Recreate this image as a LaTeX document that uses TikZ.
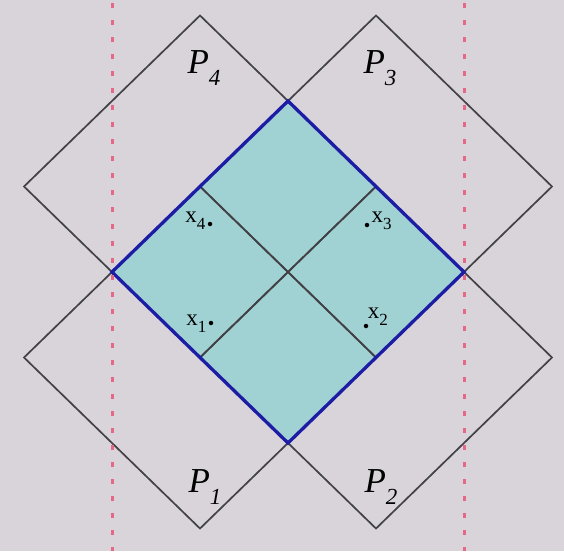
\documentclass[tikz,border=0pt]{standalone}
\usepackage{fontspec}
\setmainfont{Liberation Serif}
\definecolor{bg}{RGB}{216,212,218}
\definecolor{fillc}{RGB}{160,210,212}
\definecolor{edge}{RGB}{28,28,165}
\definecolor{grayline}{RGB}{65,65,70}
\definecolor{reddash}{RGB}{228,105,135}
\newcommand{\plab}[1]{\fontsize{35}{38}\selectfont\textit{P}\raisebox{-0.35em}{\fontsize{23}{24}\selectfont\textit{#1}}}
\newcommand{\xlab}[1]{\fontsize{23}{26}\selectfont x\raisebox{-0.3em}{\fontsize{17}{19}\selectfont #1}}
\begin{document}
\begin{tikzpicture}[x=1pt,y=-1pt,
  psq/.style={draw=grayline,line width=1.7pt,line join=miter},
  central/.style={draw=edge,line width=3.3pt,line join=miter},
  guide/.style={draw=reddash,line width=3pt,dash pattern=on 5pt off 12pt},
  pt/.style={circle,fill=black,inner sep=0pt,minimum size=4.5pt},
  lab/.style={inner sep=0pt}]
\useasboundingbox (0,0) rectangle (564,551);
\fill[bg] (0,0) rectangle (564,551);
% geometry
\def\hx{176}\def\hy{171}
\coordinate (C) at (288,272);
\coordinate (c4) at (200,186.5);
\coordinate (c3) at (376,186.5);
\coordinate (c1) at (200,357.5);
\coordinate (c2) at (376,357.5);
% central fill
\fill[fillc] ([yshift=-\hy]C) -- ([xshift=\hx]C) -- ([yshift=\hy]C) -- ([xshift=-\hx]C) -- cycle;
% P squares
\foreach \c in {c1,c2,c3,c4}{
  \draw[psq] ([yshift=-\hy]\c) -- ([xshift=\hx]\c) -- ([yshift=\hy]\c) -- ([xshift=-\hx]\c) -- cycle;
}
% central border
\draw[central] ([yshift=-\hy]C) -- ([xshift=\hx]C) -- ([yshift=\hy]C) -- ([xshift=-\hx]C) -- cycle;
% red guides
\coordinate (g1t) at (112,3);
\coordinate (g1b) at (112,551);
\coordinate (g2t) at (464,3);
\coordinate (g2b) at (464,551);
\draw[guide] (g1t) -- (g1b);
\draw[guide] (g2t) -- (g2b);
% labels
\node[lab] (P4) at (204,68) {\plab{4}};
\node[lab] (P3) at (380,68) {\plab{3}};
\node[lab] (P1) at (205,487) {\plab{1}};
\node[lab] (P2) at (381,487) {\plab{2}};
% points
\node[pt] (x4) at (210,224) {};
\node[pt] (x1) at (211,323) {};
\node[pt] (x3) at (367,225) {};
\node[pt] (x2) at (366,326) {};
\node[lab,anchor=east] (l4) at ([xshift=-2pt,yshift=3pt]x4.west) {\xlab{4}};
\node[lab,anchor=east] (l1) at ([xshift=-2pt,yshift=-1pt]x1.west) {\xlab{1}};
\node[lab,anchor=west] (l3) at ([xshift=2pt,yshift=4pt]x3.east) {\xlab{3}};
\node[lab,anchor=south west] (l2) at ([xshift=0pt,yshift=-1pt]x2.north east) {\xlab{2}};
\end{tikzpicture}
\end{document}
